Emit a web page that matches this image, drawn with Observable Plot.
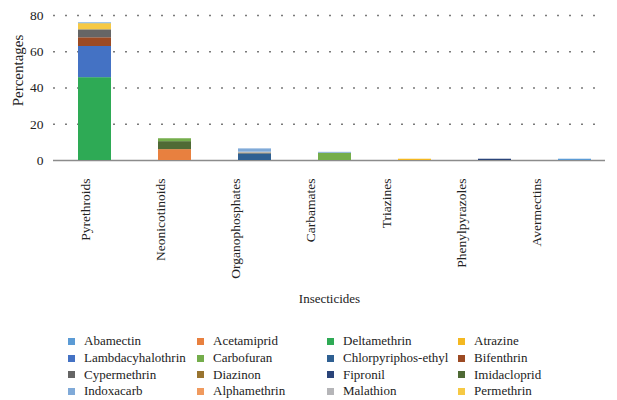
<!DOCTYPE html>
<html>
<head>
<meta charset="utf-8">
<script src="https://cdn.jsdelivr.net/npm/d3@7"></script>
<script src="https://cdn.jsdelivr.net/npm/@observablehq/plot@0.6"></script>
<style>
  html, body { margin: 0; padding: 0; background: #fff; }
  #chart { width: 617px; font-family: "Liberation Serif", "DejaVu Serif", serif; color: #222; }
  .legend { display: grid; grid-template-columns: 129px 130px 131px 130px; padding: 8px 0 0 68px; row-gap: 0; }
  .item { display: flex; align-items: center; height: 16.7px; font-size: 13px; white-space: nowrap; }
  .sw { width: 7px; height: 7px; margin-right: 9px; flex: none; }
</style>
</head>
<body>
<div id="chart"></div>
<script>
const categories = ["Pyrethroids", "Neonicotinoids", "Organophosphates", "Carbamates", "Triazines", "Phenylpyrazoles", "Avermectins"];
const yTicks = [0, 20, 40, 60, 80];

// legend order (row by row)
const seriesNames = ["Abamectin", "Acetamiprid", "Deltamethrin", "Atrazine",
  "Lambdacyhalothrin", "Carbofuran", "Chlorpyriphos-ethyl", "Bifenthrin",
  "Cypermethrin", "Diazinon", "Fipronil", "Imidacloprid",
  "Indoxacarb", "Alphamethrin", "Malathion", "Permethrin"];
const seriesColors = ["#5b9bd5", "#e8803f", "#2eaa55", "#f4b821",
  "#4472c4", "#74ad4b", "#2f6092", "#9c4a23",
  "#656565", "#997430", "#2a4479", "#4f6a35",
  "#80aad8", "#f09a5e", "#b5b5b8", "#f6c944"];

// values per series, one per category (percentages)
const abamectin         = [0.4, 0,   0,   0,   0,   0,   0.7];
const acetamiprid       = [0,   6.0, 0,   0,   0,   0,   0];
const deltamethrin      = [45.7,0,   0,   0,   0,   0,   0];
const atrazine          = [0,   0,   0,   0,   0.7, 0,   0];
const lambdacyhalothrin = [17.2,0,   0,   0,   0,   0,   0];
const carbofuran        = [0,   1.6, 0,   4.0, 0,   0,   0];
const chlorpyriphos     = [0,   0,   3.7, 0,   0,   0,   0];
const bifenthrin        = [4.8, 0,   0,   0,   0,   0,   0];
const cypermethrin      = [4.4, 0,   0,   0,   0,   0,   0];
const diazinon          = [0,   0,   0.4, 0,   0,   0,   0];
const fipronil          = [0,   0,   0,   0,   0,   0.7, 0];
const imidacloprid      = [0,   4.4, 0,   0,   0,   0,   0];
const indoxacarb        = [0,   0,   1.8, 0.5, 0,   0,   0];
const alphamethrin      = [0,   0,   0,   0,   0,   0,   0];
const malathion         = [0,   0,   0.5, 0,   0,   0,   0];
const permethrin        = [3.4, 0,   0,   0,   0,   0,   0];

const seriesValues = [abamectin, acetamiprid, deltamethrin, atrazine,
  lambdacyhalothrin, carbofuran, chlorpyriphos, bifenthrin,
  cypermethrin, diazinon, fipronil, imidacloprid,
  indoxacarb, alphamethrin, malathion, permethrin];

// bottom-to-top stacking order
const stackOrder = ["Deltamethrin", "Lambdacyhalothrin", "Bifenthrin", "Cypermethrin", "Permethrin", "Abamectin",
  "Acetamiprid", "Imidacloprid", "Carbofuran", "Chlorpyriphos-ethyl", "Diazinon", "Malathion", "Indoxacarb",
  "Atrazine", "Fipronil", "Alphamethrin"];

const data = [];
stackOrder.forEach(name => {
  const vals = seriesValues[seriesNames.indexOf(name)];
  categories.forEach((c, i) => { if (vals[i] > 0) data.push({category: c, series: name, value: vals[i]}); });
});

const labelSpread = 0.941, labelShift = -3;

const plot = Plot.plot({
  width: 617,
  height: 325,
  marginLeft: 53,
  marginRight: 12,
  marginTop: 15,
  marginBottom: 165,
  style: {fontFamily: "'Liberation Serif', 'DejaVu Serif', serif", fontSize: "13px", color: "#222", background: "#fff"},
  x: {domain: categories, range: [53, 616], paddingInner: 0.59, paddingOuter: 0.295, axis: null},
  y: {domain: [0, 80], axis: null},
  color: {domain: seriesNames, range: seriesColors},
  marks: [
    Plot.gridY(yTicks.filter(t => t > 0), {stroke: "#7a7a7a", strokeOpacity: 1, strokeWidth: 1.3, strokeDasharray: "2,10"}),
    Plot.ruleY([0], {stroke: "#8c8c8c", strokeWidth: 1.6}),
    Plot.barY(data, Plot.stackY({x: "category", y: "value", fill: "series", order: stackOrder})),
    Plot.axisY({ticks: yTicks, tickSize: 0, tickPadding: 10, fontSize: 13.5, label: null, fill: "#222"}),
    Plot.text(categories, {
      x: d => d, frameAnchor: "bottom", rotate: -90, textAnchor: "end", dy: 18,
      fontSize: 13.5, fill: "#222",
      render(index, scales, values, dimensions, context, next) {
        const s = scales.x;
        const bw = typeof s.bandwidth === "function" ? s.bandwidth() : (s.bandwidth || 0);
        const ml = dimensions.marginLeft;
        const x = Float64Array.from(values.x, v => ml + (v + bw / 2 - ml) * labelSpread + labelShift - bw / 2);
        return next(index, scales, {...values, x}, dimensions, context);
      }
    }),
    Plot.text(["Insecticides"], {frameAnchor: "bottom", dy: 142, fontSize: 13, fill: "#222"}),
    Plot.text(["Percentages"], {frameAnchor: "top-left", textAnchor: "middle", lineAnchor: "middle", dx: -35, dy: 55, rotate: -90, fontSize: 15, fill: "#222"})
  ]
});

const root = document.getElementById("chart");
root.appendChild(plot);

const legend = document.createElement("div");
legend.className = "legend";
seriesNames.forEach((name, i) => {
  const item = document.createElement("div");
  item.className = "item";
  const sw = document.createElement("span");
  sw.className = "sw";
  sw.style.background = seriesColors[i];
  const label = document.createElement("span");
  label.textContent = name;
  item.appendChild(sw);
  item.appendChild(label);
  legend.appendChild(item);
});
root.appendChild(legend);
</script>
</body>
</html>
